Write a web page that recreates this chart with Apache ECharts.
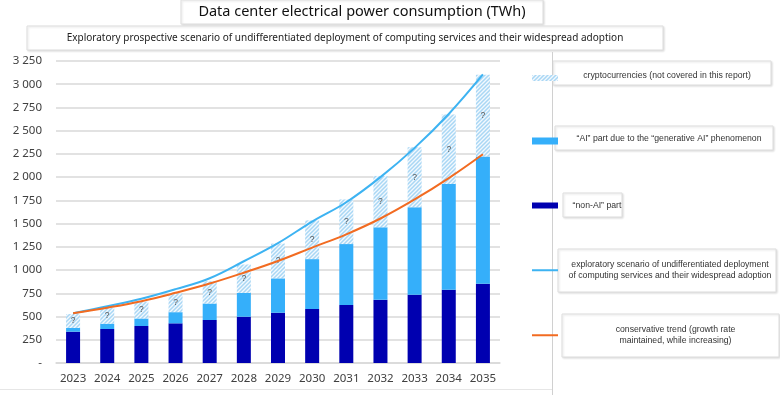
<!DOCTYPE html>
<html>
<head>
<meta charset="utf-8">
<script src="https://cdn.jsdelivr.net/npm/echarts@6/dist/echarts.min.js"></script>
<style>html,body{margin:0;padding:0;background:#fff}#c{width:780px;height:395px}</style>
</head>
<body>
<div id="c"></div>
<script>
// ---- data (TWh) ----
const years = ['2023','2024','2025','2026','2027','2028','2029','2030','2031','2032','2033','2034','2035'];
const nonAI = [337, 366, 398, 427, 463, 498, 541, 581, 624, 680, 735, 789, 854];
const aiPart = [41, 57, 81, 120, 177, 257, 370, 537, 656, 780, 941, 1138, 1367];
const crypto = [149, 172, 181, 203, 240, 305, 374, 417, 480, 553, 646, 746, 882];
const exploratory = [535, 610, 692, 795, 912, 1095, 1290, 1522, 1730, 2000, 2315, 2680, 3105];
const conservative = [535, 595, 665, 755, 855, 972, 1098, 1242, 1385, 1555, 1760, 1990, 2247];
const yTicks = {min: 0, max: 3250, interval: 250};

const names = {
  crypto: 'cryptocurrencies (not covered in this report)',
  ai: '\u201cAI\u201d part due to the \u201cgenerative AI\u201d phenomenon',
  nonai: '\u201cnon-AI\u201d part',
  expl: 'exploratory scenario of undifferentiated deployment of computing services and their widespread adoption',
  cons: 'conservative trend (growth rate maintained, while increasing)'
};
const legendLines = {};
legendLines[names.crypto] = ['cryptocurrencies (not covered in this report)'];
legendLines[names.ai] = ['\u201cAI\u201d part due to the \u201cgenerative AI\u201d phenomenon'];
legendLines[names.nonai] = ['\u201cnon-AI\u201d part'];
legendLines[names.expl] = ['exploratory scenario of undifferentiated deployment', 'of computing services and their widespread adoption'];
legendLines[names.cons] = ['conservative trend (growth rate', 'maintained, while increasing)'];

const C = {dark:'#0000B0', light:'#35AFFA', hatchBg:'#f3f9fe', hatch:'#a9d7f4', blueLine:'#3DB3F2', orange:'#F26B21', grid:'#d9d9d9'};

// diagonal hatch pattern ("////")
function hatchPattern(){
  const s = 4, cv = document.createElement('canvas');
  cv.width = s; cv.height = s;
  const g = cv.getContext('2d');
  g.fillStyle = C.hatchBg; g.fillRect(0, 0, s, s);
  g.strokeStyle = C.hatch; g.lineWidth = 1.5;
  g.beginPath();
  g.moveTo(-1, s + 1); g.lineTo(s + 1, -1);
  g.moveTo(-1, 1); g.lineTo(1, -1);
  g.moveTo(s - 1, s + 1); g.lineTo(s + 1, s - 1);
  g.stroke();
  return {image: cv, repeat: 'repeat'};
}
const hatchFill = hatchPattern();

function fmtY(v){
  if (v === 0) return '-';
  return String(v).replace(/\B(?=(\d{3})+(?!\d))/g, ' ');
}

function mkLegend(name, top, iconH, textW, padBottom){
  return {
    left: 527, top: top, orient: 'vertical', selectedMode: false,
    itemWidth: 26, itemHeight: iconH, icon: 'rect',
    data: [name],
    formatter: n => legendLines[n].map(l => '{c|' + l + '}').join('\n'),
    textStyle: {
      fontFamily: 'Liberation Sans', fontSize: 8.7, color: '#333',
      padding: [0, 0, padBottom || 0, 0],
      rich: {c: {width: textW, align: 'center', fontFamily: 'Liberation Sans', fontSize: 8.7, color: '#333', lineHeight: 11.5}}
    }
  };
}

function box(x, y, w, h){
  return {type:'rect', shape:{x:x, y:y, width:w, height:h}, z: -1,
    style:{fill:'#fff', stroke:'#dedede', lineWidth:1, shadowBlur:2, shadowColor:'rgba(0,0,0,0.12)', shadowOffsetX:1, shadowOffsetY:1}};
}

const chart = echarts.init(document.getElementById('c'));
chart.setOption({
  animation: false,
  backgroundColor: '#fff',
  grid: {left: 56, right: 280, top: 61, bottom: 32, containLabel: false},
  xAxis: {
    type: 'category', data: years,
    axisTick: {show: false},
    axisLine: {lineStyle: {color: C.grid, width: 1.5}},
    axisLabel: {interval: 0, color: '#404040', fontFamily: 'Noto Sans', fontSize: 11.5, margin: 10}
  },
  yAxis: {
    type: 'value', min: yTicks.min, max: yTicks.max, interval: yTicks.interval,
    axisLine: {show: false}, axisTick: {show: false},
    splitLine: {lineStyle: {color: C.grid, width: 1.5}},
    axisLabel: {color: '#404040', fontFamily: 'Noto Sans', fontSize: 11.5, margin: 14, formatter: fmtY}
  },
  legend: [
    mkLegend(names.crypto, 66, 6, 208, 5),
    mkLegend(names.ai, 129, 7, 212, 5),
    mkLegend(names.nonai, 196, 6, 68, 0),
    mkLegend(names.expl, 255, 2, 214, 0),
    mkLegend(names.cons, 320, 2, 225, 0)
  ],
  graphic: [
    box(181, 0, 362, 24),
    {type:'text', x: 362, y: 12, style:{text:'Data center electrical power consumption (TWh)', align:'center', verticalAlign:'middle', fontFamily:'Noto Sans', fontSize:14.5, fill:'#111'}},
    box(27, 26, 636, 24),
    {type:'text', x: 345, y: 38, style:{text:'Exploratory prospective scenario of undifferentiated deployment of computing services and their widespread adoption', align:'center', verticalAlign:'middle', fontFamily:'Noto Sans', fontSize:10, fill:'#222'}},
    {type:'line', shape:{x1:552.5, y1:52, x2:552.5, y2:395}, style:{stroke:'#d0d0d0', lineWidth:1}},
    {type:'line', shape:{x1:0, y1:389.5, x2:552, y2:389.5}, style:{stroke:'#e6e6e6', lineWidth:1}},
    box(553, 61, 218, 24),
    box(555, 126, 218, 24),
    box(563, 193, 59, 24),
    box(558, 249, 218, 43),
    box(562, 314, 217, 43)
  ],
  series: [
    {name: names.nonai, type: 'bar', stack: 'total', barWidth: 14, data: nonAI, itemStyle: {color: C.dark}},
    {name: names.ai, type: 'bar', stack: 'total', barWidth: 14, data: aiPart, itemStyle: {color: C.light}},
    {name: names.crypto, type: 'bar', stack: 'total', barWidth: 14, data: crypto,
      itemStyle: {color: hatchFill},
      label: {show: true, position: 'inside', formatter: '?', fontFamily: 'Liberation Sans', fontSize: 8.5, color: '#555'}},
    {name: names.expl, type: 'line', data: exploratory, smooth: 0.4, symbol: 'none', lineStyle: {color: C.blueLine, width: 2}, itemStyle: {color: C.blueLine}, z: 5},
    {name: names.cons, type: 'line', data: conservative, smooth: 0.4, symbol: 'none', lineStyle: {color: C.orange, width: 2}, itemStyle: {color: C.orange}, z: 5}
  ]
});
</script>
</body>
</html>
